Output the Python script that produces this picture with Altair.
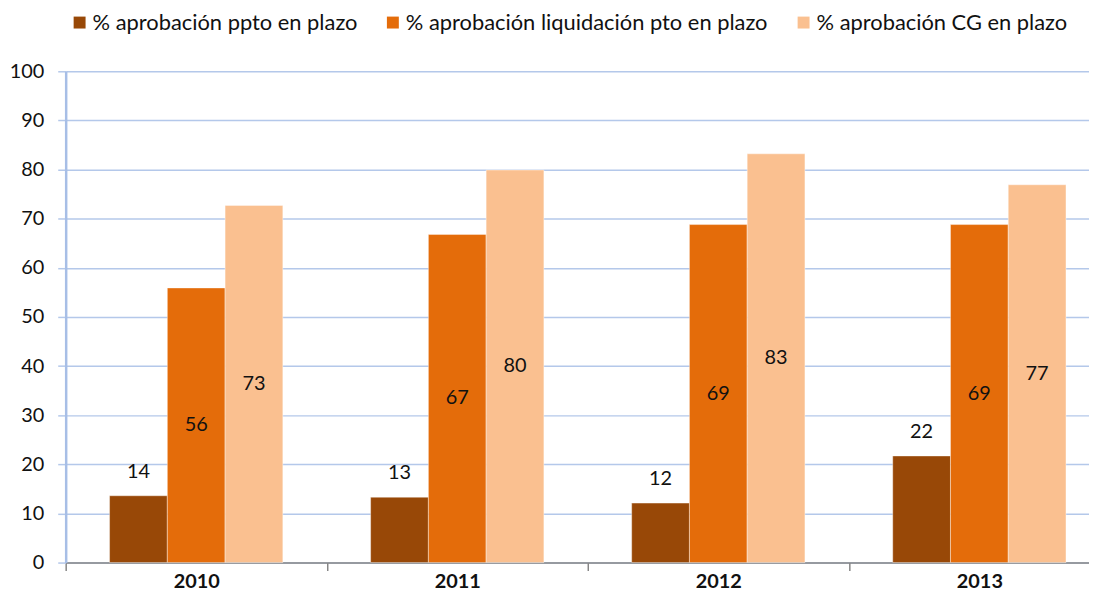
import altair as alt
import pandas as pd

years = ["2010", "2011", "2012", "2013"]
series = [
    "% aprobación ppto en plazo",
    "% aprobación liquidación pto en plazo",
    "% aprobación CG en plazo",
]
ppto = [13.6, 13.3, 12.1, 21.7]
liq = [55.9, 66.8, 68.8, 68.8]
cg = [72.7, 79.9, 83.2, 76.9]
colors = ["#984807", "#E46C0A", "#FAC090"]

rows = []
for s_i, (name, vals) in enumerate(zip(series, [ppto, liq, cg])):
    for y, v in zip(years, vals):
        rows.append({"year": y, "serie": name, "order": s_i, "value": v,
                     "label": str(int(round(v))), "mid": v / 2})
df = pd.DataFrame(rows)

FONT = "Lato"
FS = 20

x_enc = alt.X("year:N", sort=years, title=None,
              scale=alt.Scale(range=[0, 1050], paddingInner=0, paddingOuter=0),
              axis=alt.Axis(labelFontSize=FS, labelFontWeight="bold", labelColor="#111111",
                            labelFont=FONT, domainColor="#868686", domainWidth=1.5,
                            tickColor="#868686", tickWidth=1.5, tickSize=8,
                            tickBand="extent", labelPadding=1, grid=False, labelAngle=0))
xoff = alt.XOffset("serie:N", sort=series,
                   scale=alt.Scale(paddingInner=0, paddingOuter=0.76))
y_scale = alt.Scale(domain=[0, 100], nice=False)

bars = alt.Chart(df).mark_bar(stroke="white", strokeWidth=0.8, strokeOpacity=0.5).encode(
    x=x_enc,
    xOffset=xoff,
    y=alt.Y("value:Q", scale=y_scale, title=None,
            axis=alt.Axis(values=list(range(0, 101, 10)), labelFontSize=FS, labelFont=FONT,
                          labelColor="#111111", domainColor="#A7BEE6", domainWidth=2.5,
                          gridColor="#B4C8EA", gridWidth=1.5, tickColor="#B4C8EA",
                          tickWidth=1.5, tickSize=8, labelPadding=14)),
    color=alt.Color("serie:N", sort=series,
                    scale=alt.Scale(domain=series, range=colors),
                    legend=alt.Legend(title=None, orient="none", direction="horizontal",
                                      columns=3, legendX=3, legendY=-60,
                                      symbolType="square", symbolSize=144,
                                      symbolStrokeWidth=0, labelFontSize=22,
                                      labelFont=FONT, labelColor="#111111",
                                      labelLimit=0, columnPadding=24, labelOffset=2)),
)

top_labels = alt.Chart(df).transform_filter(alt.datum.order == 0).mark_text(
    fontSize=FS, font=FONT, color="#111111", dy=-24, baseline="middle"
).encode(x=alt.X("year:N", sort=years), xOffset=xoff,
         y=alt.Y("value:Q", scale=y_scale), text="label:N")

mid_labels = alt.Chart(df).transform_filter(alt.datum.order > 0).mark_text(
    fontSize=FS, font=FONT, color="#111111", baseline="middle"
).encode(x=alt.X("year:N", sort=years), xOffset=xoff,
         y=alt.Y("mid:Q", scale=y_scale), text="label:N")

chart = alt.layer(bars, top_labels, mid_labels).properties(
    width=1029, height=494,
    padding={"left": 58, "top": 62, "right": 0, "bottom": 36},
    autosize=alt.AutoSizeParams(type="none"),
).configure_view(stroke=None).configure_axis(labelFont=FONT)

chart.save("out.html", embed_options={"renderer": "svg", "actions": False})
